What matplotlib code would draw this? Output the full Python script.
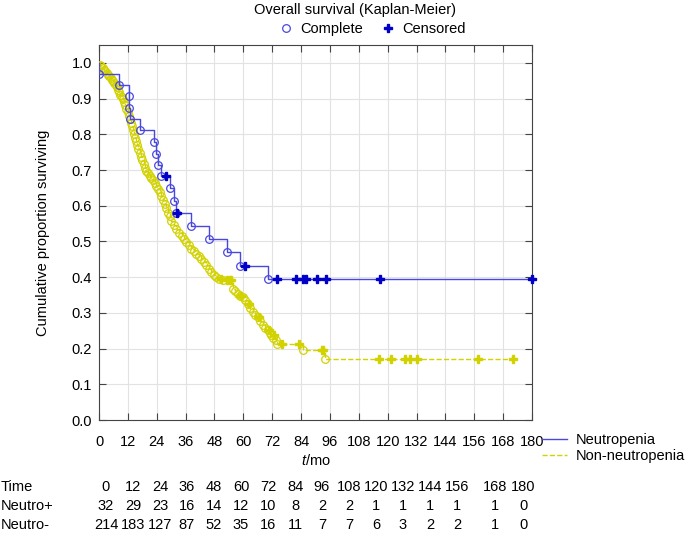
import numpy as np
import matplotlib.pyplot as plt
from matplotlib.lines import Line2D

plt.rcParams['font.family'] = ['Liberation Sans Narrow', 'Liberation Sans', 'DejaVu Sans']
plt.rcParams['mathtext.fontset'] = 'custom'
plt.rcParams['mathtext.it'] = 'Liberation Sans:italic'

# Neutropenia group (events: time, survival after the event)
neu_event_t = [0, 8.4, 12.3, 12.5, 12.8, 17.0, 23.0, 23.6, 24.5, 25.9, 29.5, 31.2, 31.9,
               38.3, 45.9, 53.2, 58.6, 70.3]
neu_event_s = [0.969, 0.938, 0.906, 0.875, 0.843, 0.811, 0.779, 0.746, 0.714, 0.682, 0.649,
               0.614, 0.580, 0.543, 0.507, 0.470, 0.432, 0.394]
neu_cens_t = [27.7, 32.6, 60.7, 73.8, 82.1, 84.8, 86.2, 90.5, 94.2, 117.0, 180]
neu_cens_s = [0.682, 0.580, 0.432, 0.394, 0.394, 0.394, 0.394, 0.394, 0.394, 0.394, 0.394]

# Non-neutropenia group
non_event_t = [0.3, 1.0, 1.5, 2.0, 2.6, 3.2, 3.7, 4.3, 4.8, 5.3, 5.9, 6.4, 6.9, 7.4, 7.9, 8.4,
               8.9, 9.4, 9.9, 10.4, 10.9, 11.4, 11.9, 12.3, 12.8, 13.2, 13.6, 14.0, 14.5, 14.9,
               15.4, 15.9, 16.4, 16.9, 17.4, 17.9, 18.5, 19.0, 19.7, 20.4, 21.1, 21.8, 22.5,
               23.2, 23.9, 24.6, 25.2, 25.9, 26.6, 27.3, 28.0, 28.7, 29.4, 30.1, 31.1, 32.2,
               33.2, 34.3, 35.3, 36.3, 37.4, 38.4, 39.5, 40.5, 41.5, 42.5, 43.6, 44.6, 45.7,
               46.7, 47.7, 48.7, 50.0, 51.5, 55.6, 56.5, 57.6, 58.6, 59.7, 60.7, 61.8, 62.8,
               63.9, 64.9, 65.9, 67.0, 68.0, 69.0, 70.1, 71.0, 71.5, 72.5, 73.5, 74.2, 84.9, 94.0]
non_event_s = [0.995, 0.991, 0.986, 0.981, 0.977, 0.972, 0.967, 0.962, 0.958, 0.953, 0.948,
               0.943, 0.937, 0.932, 0.925, 0.918, 0.911, 0.905, 0.898, 0.890, 0.882, 0.872,
               0.862, 0.852, 0.843, 0.833, 0.822, 0.812, 0.801, 0.791, 0.780, 0.770, 0.759,
               0.748, 0.737, 0.727, 0.717, 0.707, 0.698, 0.691, 0.684, 0.677, 0.671, 0.665,
               0.656, 0.647, 0.638, 0.628, 0.616, 0.604, 0.593, 0.581, 0.570, 0.558, 0.547,
               0.535, 0.525, 0.516, 0.507, 0.498, 0.489, 0.479, 0.472, 0.465, 0.458, 0.451,
               0.442, 0.433, 0.424, 0.414, 0.407, 0.400, 0.396, 0.391, 0.367, 0.360, 0.353,
               0.348, 0.344, 0.335, 0.325, 0.313, 0.302, 0.295, 0.288, 0.276, 0.265, 0.258,
               0.251, 0.244, 0.237, 0.230, 0.223, 0.214, 0.197, 0.171]
non_cens_t = [50.8, 53.2, 54.5, 55.0, 59.0, 62.4, 66.6, 70.7, 72.8, 76.0, 83.2, 92.6, 93.3,
              116.3, 121.4, 127.0, 129.4, 132.1, 157.5, 172.0]
non_cens_s = [0.394, 0.391, 0.391, 0.391, 0.348, 0.325, 0.288, 0.251, 0.237, 0.214, 0.214,
              0.197, 0.197, 0.171, 0.171, 0.171, 0.171, 0.171, 0.171, 0.171]

time_ticks = [0, 12, 24, 36, 48, 60, 72, 84, 96, 108, 120, 132, 144, 156, 168, 180]
at_risk_pos = [32, 29, 23, 16, 14, 12, 10, 8, 2, 2, 1, 1, 1, 1, 1, 0]
at_risk_neg = [214, 183, 127, 87, 52, 35, 16, 11, 7, 7, 6, 3, 2, 2, 1, 0]

blue = '#4848e0'
dblue = '#0000c8'
yellow = '#d2d200'

W, H = 685, 550
fig = plt.figure(figsize=(W / 100, H / 100), dpi=100)
ax = fig.add_axes([99 / W, 1 - 420 / H, (532 - 99) / W, (420 - 45) / H])

# yellow curve
yt = [0] + non_event_t + [non_cens_t[-1]]
ys = [1.0] + non_event_s + [non_event_s[-1]]
ax.step(yt, ys, where='post', color=yellow, lw=1, ls='--', zorder=2)
ax.plot(non_event_t, non_event_s, ls='none', marker='o', mfc='none', mec=yellow,
        ms=5.5, mew=0.9, zorder=3)
ax.plot(non_cens_t, non_cens_s, ls='none', marker='P', color=yellow, ms=6, zorder=3)

# blue curve
bt = [0] + neu_event_t + [180]
bs = [1.0] + neu_event_s + [neu_event_s[-1]]
ax.step(bt, bs, where='post', color=blue, lw=1, zorder=4)
ax.plot(neu_event_t, neu_event_s, ls='none', marker='o', mfc='none', mec=blue,
        ms=5.5, mew=0.9, zorder=5)
ax.plot(neu_cens_t, neu_cens_s, ls='none', marker='P', color=dblue, ms=6, zorder=5,
        clip_on=False)

ax.set_xlim(0, 180)
ax.set_ylim(0, 1.05)
ax.set_xticks(time_ticks)
ax.set_yticks(np.arange(0, 1.01, 0.1))
ax.set_yticklabels(['%.1f' % v for v in np.arange(0, 1.01, 0.1)])
ax.grid(True, color='#e2e2e2', lw=0.8)
ax.set_axisbelow(True)
ax.tick_params(direction='in', length=5, top=True, right=True, color='#444444',
               labelsize=10.5, width=0.8)
ax.tick_params(axis='x', pad=11)
ax.tick_params(axis='y', pad=5)
for sp in ax.spines.values():
    sp.set_color('#444444')
    sp.set_linewidth(0.8)

ax.set_ylabel('Cumulative proportion surviving', fontsize=10.5)
ax.yaxis.set_label_coords((50 - 99) / 433, 0.5)
ax.set_xlabel('$\\it{t}$/mo', fontsize=10.5)
ax.xaxis.set_label_coords(0.5, -(453 - 420) / 375)

fig.text(355 / W, 1 - 10 / H, 'Overall survival (Kaplan-Meier)', ha='center', va='center',
         fontsize=10.5)

top_handles = [Line2D([], [], ls='none', marker='o', mfc='none', mec=blue, ms=5.5, mew=0.9),
               Line2D([], [], ls='none', marker='P', color=dblue, ms=6)]
fig.legend(top_handles, ['Complete', 'Censored'], ncol=2, loc='center',
           bbox_to_anchor=(372 / W, 1 - 29 / H), frameon=False, fontsize=10.5,
           handlelength=1, handletextpad=0.5, columnspacing=1.2)

bot_handles = [Line2D([], [], color=blue, lw=1), Line2D([], [], color=yellow, lw=1, ls='--')]
fig.legend(bot_handles, ['Neutropenia', 'Non-neutropenia'], loc='upper left',
           bbox_to_anchor=(542 / W, 1 - 433 / H), frameon=False, fontsize=10.5,
           handlelength=1.7, handletextpad=0.6, labelspacing=0.15, borderpad=0,
           borderaxespad=0)

# number at risk table
col_x = [106 + 27 * i for i in range(14)] + [495, 523]
rows = [('Time', time_ticks, 487), ('Neutro+', at_risk_pos, 506), ('Neutro-', at_risk_neg, 525)]
for name, vals, y in rows:
    fig.text(1 / W, 1 - y / H, name, ha='left', va='center', fontsize=10.5)
    for x, v in zip(col_x, vals):
        fig.text(x / W, 1 - y / H, str(v), ha='center', va='center', fontsize=10.5)

fig.savefig('out.png', dpi=100)
